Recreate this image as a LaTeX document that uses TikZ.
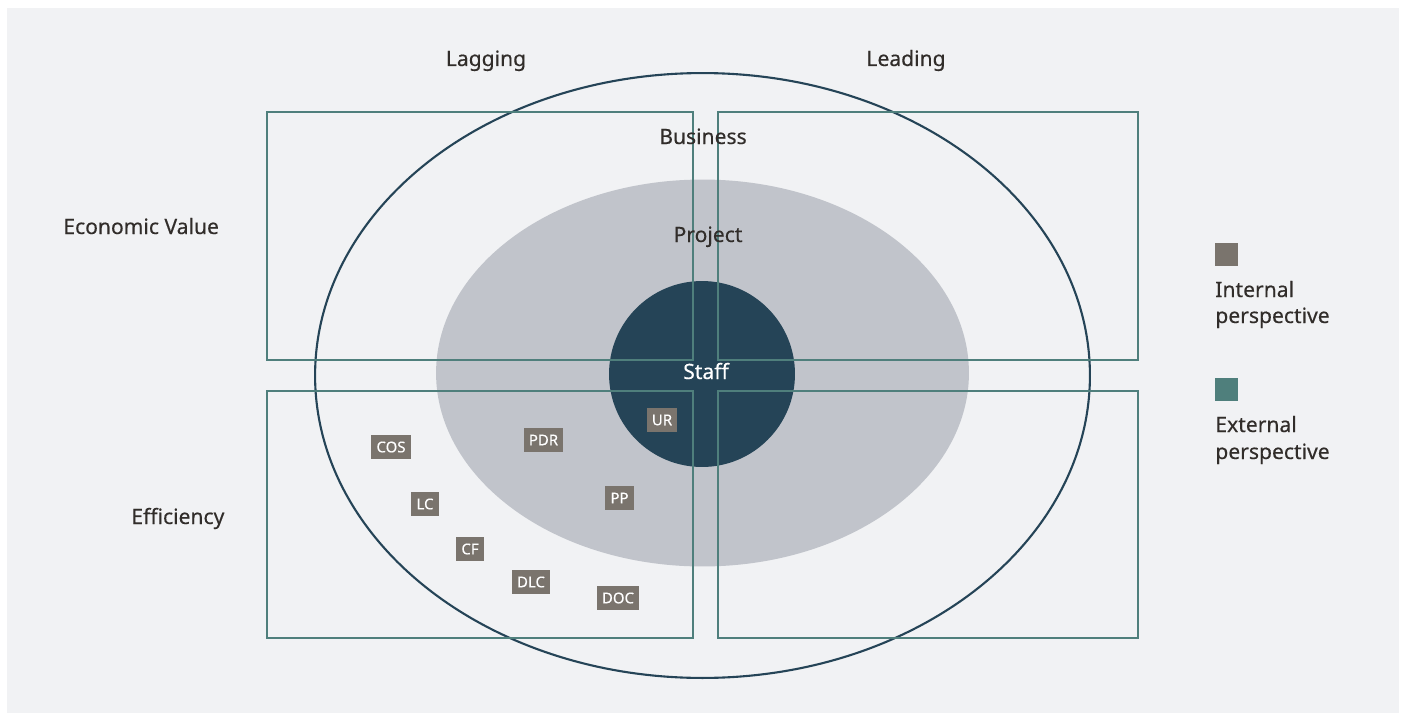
\documentclass[tikz,border=0pt]{standalone}
\usepackage{fontspec}
\setmainfont{Noto Sans}
\newfontfamily\medfont{Noto Sans}[FakeBold=0.35]
\usetikzlibrary{positioning}

\definecolor{bgcol}{HTML}{F1F2F4}
\definecolor{projcol}{HTML}{C1C4CB}
\definecolor{staffcol}{HTML}{254457}
\definecolor{tealline}{HTML}{4F7F7C}
\definecolor{tagcol}{HTML}{7A746D}
\definecolor{inkcol}{HTML}{312D2A}

\begin{document}
\begin{tikzpicture}[x=0.02cm,y=-0.02cm,
    quadbox/.style={draw=tealline, line width=1.2pt},
    lbl/.style={text=inkcol, font=\medfont\fontsize{12}{14}\selectfont, inner sep=0pt},
    tag/.style={fill=tagcol, text=white, font=\medfont\fontsize{8.5}{10}\selectfont,
        inner xsep=3pt, inner ysep=0pt, minimum height=13.6pt}]
    \useasboundingbox (0,0) rectangle (1405,713);
    \fill[bgcol] (7,8) rectangle (1399,713);

    \coordinate (mid) at (702.5,373);

    % rings
    \fill[projcol] (mid) ellipse [x radius=5.33cm, y radius=3.87cm];
    \fill[staffcol] (702,374) circle [radius=1.86cm];
    \draw[staffcol, line width=1.2pt] (702.5,375.5) ellipse [x radius=7.75cm, y radius=6.05cm];

    % quadrants
    \coordinate (tl) at (267,112);
    \coordinate (tr) at (718,112);
    \coordinate (bl) at (267,391);
    \coordinate (br) at (718,391);
    \draw[quadbox] (tl) rectangle +(426,248);
    \draw[quadbox] (tr) rectangle +(420,248);
    \draw[quadbox] (bl) rectangle +(426,247);
    \draw[quadbox] (br) rectangle +(420,247);

    % labels
    \node[lbl, anchor=base] (lagging) at (486,66) {Lagging};
    \node[lbl, anchor=base] (leading) at (906,66) {Leading};
    \node[lbl, anchor=base] (business) at (703,144) {Business};
    \node[lbl, anchor=base] (project) at (708,242) {Project};
    \node[lbl, anchor=base, text=white] (staff) at (706,379) {Staff};
    \node[lbl, anchor=base west] (econ) at (63,234) {Economic Value};
    \node[lbl, anchor=base west] (effic) at (131,524) {Efficiency};

    % metrics
    \node[tag] (ur) at (662,420) {UR};
    \node[tag] (pdr) at (543.5,440) {PDR};
    \node[tag] (pp) at (619.5,498) {PP};
    \node[tag] (cos) at (391,447) {COS};
    \node[tag] (lc) at (425,504) {LC};
    \node[tag] (cf) at (470,549) {CF};
    \node[tag] (dlc) at (531,582) {DLC};
    \node[tag] (doc) at (618,598) {DOC};

    % legend
    \fill[tagcol] (1215,243) rectangle +(23,23);
    \node[lbl, anchor=base west] (intern) at (1215,297) {Internal};
    \node[lbl, anchor=base west] (interp) at (1215,323) {perspective};
    \fill[tealline] (1215,378) rectangle +(23,23);
    \node[lbl, anchor=base west] (extern) at (1215,432) {External};
    \node[lbl, anchor=base west] (exterp) at (1215,459) {perspective};
\end{tikzpicture}
\end{document}
